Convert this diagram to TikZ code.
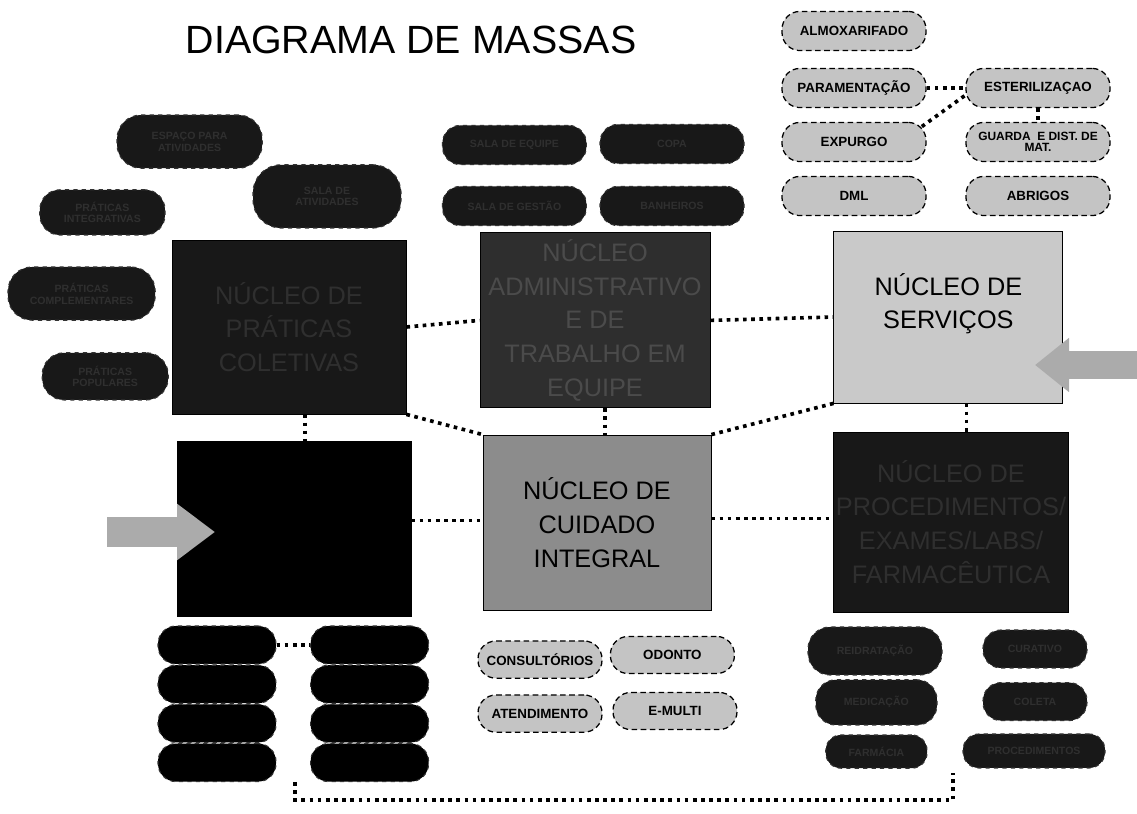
\documentclass[tikz,border=0pt]{standalone}
\usepackage{fontspec}
\setmainfont{Liberation Sans}
\usetikzlibrary{arrows.meta,positioning,calc}
\definecolor{massaDark}{HTML}{181818}
\definecolor{massaDarkTxt}{HTML}{2F2F2F}
\definecolor{massaAdmin}{HTML}{2E2E2E}
\definecolor{massaAdminTxt}{HTML}{4B4B4B}
\definecolor{massaMid}{HTML}{8C8C8C}
\definecolor{massaLight}{HTML}{C9C9C9}
\definecolor{massaPill}{HTML}{C4C4C4}
\definecolor{massaArrow}{HTML}{ABABAB}
\tikzset{
  nucleo/.style={draw=black,semithick,minimum width=5.75cm,minimum height=4.375cm,
    align=center,inner sep=2pt,font=\fontsize{18}{24}\selectfont},
  darkpill/.style={draw=black!80,dashed,thick,fill=massaDark,text=massaDarkTxt,
    rounded corners=.45cm,minimum width=3.6cm,minimum height=.98cm,align=center,
    inner sep=2pt,font=\fontsize{7.5}{8.5}\selectfont\bfseries},
  lightpill/.style={draw=black,line width=.9pt,dash pattern=on 4pt off 2.5pt,
    fill=massaPill,rounded corners=.45cm,minimum width=3.6cm,minimum height=.98cm,
    align=center,inner sep=2pt,font=\fontsize{9.5}{9.5}\selectfont\bfseries},
  link/.style={line width=2.6pt,dash pattern=on 2.6pt off 3.2pt,black},
  inarrow/.style={line width=.75cm,massaArrow,-{Triangle[length=.95cm,width=1.35cm]}}
}
\begin{document}
\begin{tikzpicture}
  \useasboundingbox (0,0) rectangle (28.425,20.35);
  \node[font=\fontsize{28}{30}\selectfont] (titulo) at (10.275,19.35) {DIAGRAMA DE MASSAS};

  % nucleos
  \node[nucleo,fill=massaDark,text=massaDarkTxt,minimum width=5.85cm,minimum height=4.35cm]
       (colet) at (7.225,12.175) {NÚCLEO DE\\PRÁTICAS\\COLETIVAS};
  \node[nucleo,fill=massaAdmin,text=massaAdminTxt] (admin) at (14.875,12.34)
       {NÚCLEO\\ADMINISTRATIVO\\E DE\\TRABALHO EM\\EQUIPE};
  \node[nucleo,fill=massaLight,minimum width=5.725cm,minimum height=4.3cm] (serv) at (23.71,12.425) {};
  \node[font=\fontsize{18}{24}\selectfont,align=center] (servtxt) at ([yshift=.33cm]serv.center)
       {NÚCLEO DE\\SERVIÇOS};
  \node[nucleo,fill=black,minimum width=5.85cm] (acolh) at (7.35,7.1375) {};
  \node[nucleo,fill=massaMid,minimum width=5.7cm] (cuid) at (14.925,7.2875)
       {NÚCLEO DE\\CUIDADO\\INTEGRAL};
  \node[nucleo,fill=massaDark,text=massaDarkTxt,minimum height=4.5cm] (proc) at (23.775,7.3)
       {NÚCLEO DE\\PROCEDIMENTOS/\\EXAMES/LABS/\\FARMACÊUTICA};

  \draw[link] (colet.east) -- (admin.west);
  \draw[link] (admin.east) -- (serv.west);
  \draw[link] (colet.south east) -- (cuid.north west);
  \draw[link] ([xshift=.25cm]admin.south) -- ([xshift=.25cm]admin.south |- cuid.north);
  \draw[link] (cuid.north east) -- (serv.south west);
  \draw[link] ([xshift=.45cm]serv.south) -- ([xshift=.45cm]serv.south |- proc.north);
  \draw[link] ([xshift=.4cm]colet.south) -- ([xshift=.4cm]colet.south |- acolh.north);
  \draw[link] ([yshift=.2cm]acolh.east) -- ([yshift=.2cm]acolh.east -| cuid.west);
  \draw[link] ([yshift=.1cm]cuid.east) -- ([yshift=.1cm]cuid.east -| proc.west);

  % entradas
  \coordinate (inA) at (2.675,7.05);
  \coordinate (tipA) at (5.375,7.05);
  \draw[inarrow] (inA) -- (tipA);
  \coordinate (inS) at (28.425,11.225);
  \coordinate (tipS) at (25.875,11.225);
  \draw[inarrow,line width=.68cm,-{Triangle[length=.85cm,width=1.3cm]}] (inS) -- (tipS);

  % apoio dos servicos
  \node[lightpill] (almox) at (21.35,19.575) {ALMOXARIFADO};
  \node[lightpill] (param) at (21.35,18.15) {PARAMENTAÇÃO};
  \node[lightpill] (expurgo) at (21.35,16.8) {EXPURGO};
  \node[lightpill] (dml) at (21.35,15.45) {DML};
  \node[lightpill] (ester) at (25.95,18.15) {ESTERILIZAÇAO};
  \node[lightpill,font=\fontsize{8.5}{8}\selectfont\bfseries] (guarda) at (25.95,16.8)
       {GUARDA \ E DIST. DE\\MAT.};
  \node[lightpill] (abrigos) at (25.95,15.45) {ABRIGOS};
  \draw[link] (param) -- (ester);
  \draw[link] ([shift={(-.12cm,-.12cm)}]expurgo.north east) -- ([yshift=-.18cm]ester.west);
  \draw[link] (ester) -- (guarda);

  \node[darkpill] (equipe) at (12.86,16.725) {SALA DE EQUIPE};
  \node[darkpill] (copa) at (16.8,16.75) {COPA};
  \node[darkpill] (gestao) at (12.86,15.2) {SALA DE GESTÃO};
  \node[darkpill] (banheiro) at (16.8,15.2) {BANHEIROS};

  \node[darkpill,minimum width=3.63cm,minimum height=1.33cm,rounded corners=.6cm] (espaco)
       at (4.74,16.81) {ESPAÇO PARA\\ATIVIDADES};
  \node[darkpill,minimum width=3.7cm,minimum height=1.58cm,rounded corners=.7cm] (salaat)
       at (8.175,15.44) {SALA DE\\ATIVIDADES};
  \node[darkpill,minimum width=3.13cm,minimum height=1.13cm,rounded corners=.5cm] (integr)
       at (2.56,15.04) {PRÁTICAS\\INTEGRATIVAS};
  \node[darkpill,minimum width=3.68cm,minimum height=1.33cm,rounded corners=.6cm] (compl)
       at (2.04,13.01) {PRÁTICAS\\COMPLEMENTARES};
  \node[darkpill,minimum width=3.15cm,minimum height=1.18cm,rounded corners=.55cm] (popul)
       at (2.63,10.94) {PRÁTICAS\\POPULARES};

  \foreach \i/\y in {1/4.225,2/3.245,3/2.265,4/1.285}{
    \node[darkpill,fill=black,minimum width=2.95cm,minimum height=.95cm] (bl\i) at (5.425,\y) {};
    \node[darkpill,fill=black,minimum width=2.95cm,minimum height=.95cm] (br\i) at (9.24,\y) {};
  }
  \draw[link] (bl1) -- (br1);

  \node[lightpill,minimum width=3.1cm,minimum height=.93cm] (consult) at (13.5,3.86) {CONSULTÓRIOS};
  \node[lightpill,minimum width=3.1cm,minimum height=.93cm] (odonto) at (16.81,3.975) {ODONTO};
  \node[lightpill,minimum width=3.1cm,minimum height=.93cm] (atend) at (13.5,2.51) {ATENDIMENTO};
  \node[lightpill,minimum width=3.1cm,minimum height=.93cm] (emulti) at (16.875,2.575) {E-MULTI};

  \node[darkpill,minimum width=3.35cm,minimum height=1.2cm,rounded corners=.55cm] (reidrat)
       at (21.875,4.075) {REIDRATAÇÃO};
  \node[darkpill,minimum width=3.03cm,minimum height=1.13cm,rounded corners=.5cm] (medic)
       at (21.91,2.79) {MEDICAÇÃO};
  \node[darkpill,minimum width=2.53cm,minimum height=.83cm,rounded corners=.38cm] (farm)
       at (21.91,1.56) {FARMÁCIA};
  \node[darkpill,minimum width=2.6cm,minimum height=.95cm] (curat) at (25.875,4.125) {CURATIVO};
  \node[darkpill,minimum width=2.6cm,minimum height=.95cm] (coleta) at (25.875,2.81) {COLETA};
  \node[darkpill,minimum width=3.55cm,minimum height=.85cm,rounded corners=.4cm] (proced)
       at (25.85,1.575) {PROCEDIMENTOS};

  \coordinate (baseL) at (7.375,.8);
  \coordinate (baseR) at (23.825,1.025);
  \draw[link] (baseL) -- ++(0,-.45) -| (baseR);
\end{tikzpicture}
\end{document}
